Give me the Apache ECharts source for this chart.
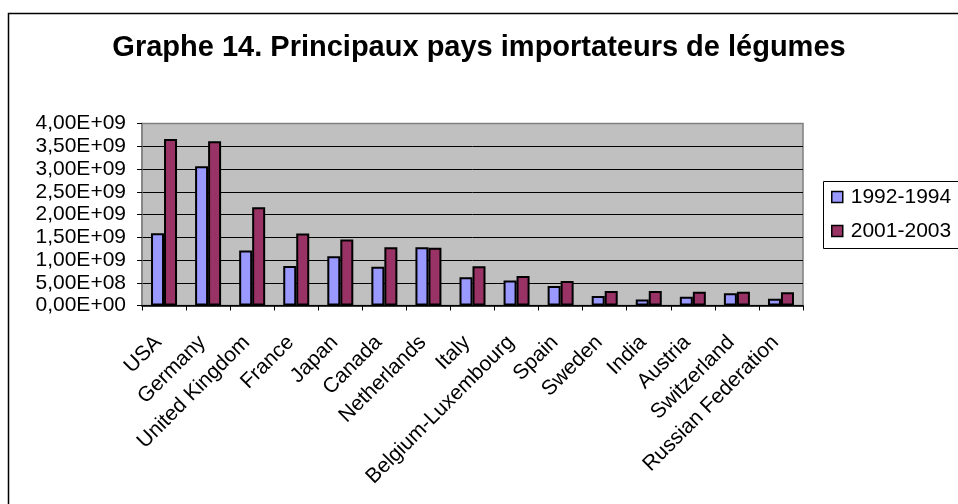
<!DOCTYPE html>
<html>
<head>
<meta charset="utf-8">
<script src="https://cdn.jsdelivr.net/npm/echarts@6/dist/echarts.min.js"></script>
<style>
html,body{margin:0;padding:0;background:#fff;}
#chart{width:958px;height:504px;}
</style>
</head>
<body>
<div id="chart"></div>
<script>
var titleText = 'Graphe 14. Principaux pays importateurs de légumes';
var categories = ['USA','Germany','United Kingdom','France','Japan','Canada','Netherlands','Italy','Belgium-Luxembourg','Spain','Sweden','India','Austria','Switzerland','Russian Federation'];
var seriesNames = ['1992-1994','2001-2003'];
var values1992 = [1.59e9,3.06e9,1.21e9,0.87e9,1.08e9,0.85e9,1.28e9,0.62e9,0.55e9,0.43e9,0.21e9,0.13e9,0.19e9,0.27e9,0.15e9];
var values2001 = [3.66e9,3.61e9,2.16e9,1.58e9,1.45e9,1.28e9,1.27e9,0.86e9,0.65e9,0.54e9,0.32e9,0.32e9,0.30e9,0.30e9,0.29e9];
var yMin = 0, yMax = 4e9, yStep = 5e8;

var FONT = '"Liberation Sans", Arial, sans-serif';
function fmt(v){
  if (v === 0) return '0,00E+00';
  var s = v.toExponential(2);
  var parts = s.split('e');
  var m = parts[0].replace('.', ',');
  var e = parseInt(parts[1], 10);
  var sign = e < 0 ? '-' : '+';
  var ae = Math.abs(e);
  return m + 'E' + sign + (ae < 10 ? '0' + ae : '' + ae);
}

var chart = echarts.init(document.getElementById('chart'), null, {renderer: 'canvas'});
var option = {
  animation: false,
  backgroundColor: '#fff',
  textStyle: {fontFamily: FONT},
  title: {
    text: titleText,
    left: 'center',
    top: 33,
    padding: 0,
    textStyle: {fontFamily: FONT, fontSize: 29, fontWeight: 'bold', color: '#000'}
  },
  graphic: [
    {type: 'rect', z: -10, silent: true, shape: {x: 8.5, y: 13.5, width: 1000, height: 600},
     style: {fill: 'none', stroke: '#000', lineWidth: 1.5}},
    {type: 'rect', z: 10, silent: true, shape: {x: 823.5, y: 181.5, width: 140, height: 67},
     style: {fill: '#fff', stroke: '#000', lineWidth: 1}}
  ],
  legend: {
    orient: 'vertical',
    left: 831,
    top: 186,
    padding: 0,
    itemGap: 12,
    itemWidth: 11,
    itemHeight: 11,
    icon: 'rect',
    z: 20,
    itemStyle: {borderColor: '#000', borderWidth: 1.5},
    textStyle: {fontFamily: FONT, fontSize: 21, color: '#000', lineHeight: 22, padding: [0,0,0,3]},
    data: seriesNames
  },
  grid: {
    left: 142, right: 155, top: 123.5, bottom: 198.5,
    show: true, backgroundColor: '#C0C0C0', borderColor: '#808080', borderWidth: 1.5
  },
  xAxis: {
    type: 'category',
    data: categories,
    axisLine: {show: true, lineStyle: {color: '#000', width: 1.5}},
    axisTick: {show: true, length: 5, lineStyle: {color: '#000', width: 1}},
    axisLabel: {rotate: 45, margin: 28, padding: [0, 8, 0, 0], fontFamily: FONT, fontSize: 21, color: '#000', interval: 0}
  },
  yAxis: {
    type: 'value',
    min: yMin, max: yMax, interval: yStep,
    axisLine: {show: true, lineStyle: {color: '#808080', width: 1.5}},
    axisTick: {show: true, length: 5, lineStyle: {color: '#000', width: 1}},
    axisLabel: {margin: 16, fontFamily: FONT, fontSize: 21, color: '#000', formatter: fmt},
    splitLine: {show: true, lineStyle: {color: ['#000','#000','#000','#000','#000','#000','#000','#000','#808080'], width: 1}}
  },
  series: [
    {name: seriesNames[0], type: 'bar', data: values1992, barWidth: 13, barGap: '0%',
     itemStyle: {color: '#9999FF', borderColor: '#000', borderWidth: 2}},
    {name: seriesNames[1], type: 'bar', data: values2001, barWidth: 13, barGap: '0%',
     itemStyle: {color: '#993366', borderColor: '#000', borderWidth: 2}}
  ]
};
chart.setOption(option);
</script>
</body>
</html>
